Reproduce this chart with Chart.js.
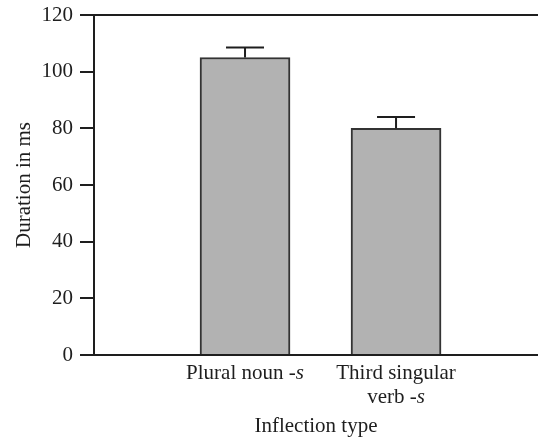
<!DOCTYPE html>
<html>
<head>
<meta charset="utf-8">
<script src="https://cdn.jsdelivr.net/npm/chart.js@4.4.1/dist/chart.umd.min.js"></script>
<style>
  body { margin: 0; background: #fff; }
  #wrap { width: 538px; height: 440px; }
</style>
</head>
<body>
<div id="wrap"><canvas id="durationChart" width="538" height="440"></canvas></div>
<script>
// data
const categories = [['Plural noun -s'], ['Third singular', 'verb -s']];
const positions = [1, 2];
const durations = [105, 80];
const errors = [3.5, 4];
const yTicks = [0, 20, 40, 60, 80, 100, 120];

const ink = '#1e1e1e';
const serif = 'Liberation Serif, Times New Roman, serif';
const fs = 21;

// error bars on top of each bar
const errorBars = {
    id: 'errorBars',
    afterDatasetsDraw(chart) {
        const ctx = chart.ctx;
        const meta = chart.getDatasetMeta(0);
        const y = chart.scales.y;
        ctx.save();
        ctx.strokeStyle = ink;
        ctx.lineWidth = 2;
        meta.data.forEach((bar, i) => {
            const top = y.getPixelForValue(durations[i] + errors[i]);
            const base = y.getPixelForValue(durations[i]);
            ctx.beginPath();
            ctx.moveTo(bar.x, base);
            ctx.lineTo(bar.x, top);
            ctx.moveTo(bar.x - 19, top);
            ctx.lineTo(bar.x + 19, top);
            ctx.stroke();
        });
        ctx.restore();
    }
};

// x labels, with the "s" of "-s" in italics
const xLabels = {
    id: 'xLabels',
    afterDraw(chart) {
        const ctx = chart.ctx;
        const x = chart.scales.x;
        const bottom = chart.chartArea.bottom;
        ctx.save();
        ctx.fillStyle = ink;
        ctx.textBaseline = 'alphabetic';
        ctx.textAlign = 'left';
        categories.forEach((lines, i) => {
            const cx = x.getPixelForValue(positions[i]);
            lines.forEach((line, j) => {
                const ly = bottom + 24 + j * 24;
                let plain = line, ital = '';
                if (line.endsWith('-s')) {
                    plain = line.slice(0, -1);
                    ital = 's';
                }
                ctx.font = fs + 'px ' + serif;
                const w1 = ctx.measureText(plain).width;
                ctx.font = 'italic ' + fs + 'px ' + serif;
                const w2 = ital ? ctx.measureText(ital).width : 0;
                const start = cx - (w1 + w2) / 2;
                ctx.font = fs + 'px ' + serif;
                ctx.fillText(plain, start, ly);
                if (ital) {
                    ctx.font = 'italic ' + fs + 'px ' + serif;
                    ctx.fillText(ital, start + w1, ly);
                }
            });
        });
        ctx.restore();
    }
};

new Chart(document.getElementById('durationChart'), {
    type: 'bar',
    data: {
        datasets: [{
            data: positions.map((p, i) => ({ x: p, y: durations[i] })),
            backgroundColor: '#b2b2b2',
            borderColor: '#333333',
            borderWidth: 2,
            barThickness: 90,
        }]
    },
    plugins: [errorBars, xLabels],
    options: {
        responsive: false,
        animation: false,
        layout: { padding: { top: 15, right: 0, left: 0, bottom: 0 } },
        plugins: {
            legend: { display: false },
            tooltip: { enabled: false },
        },
        scales: {
            x: {
                type: 'linear',
                min: 0,
                max: 2.94,
                offset: false,
                grid: { display: false, offset: false },
                border: { display: false },
                ticks: { display: false },
                title: {
                    display: true,
                    text: 'Inflection type',
                    color: ink,
                    font: { family: serif, size: fs },
                    padding: { top: 0, bottom: 1 },
                },
                afterFit: (s) => { s.height = 85; },
            },
            y: {
                min: 0,
                max: 120,
                afterBuildTicks: (s) => { s.ticks = yTicks.map(v => ({ value: v })); },
                grid: {
                    lineWidth: 2,
                    tickLength: 14,
                    tickColor: ink,
                    color: (c) => (c.tick && (c.tick.value === 0 || c.tick.value === 120)) ? ink : 'rgba(0,0,0,0)',
                },
                border: { display: true, color: ink, width: 2 },
                ticks: {
                    color: ink,
                    padding: 7,
                    font: { family: serif, size: fs },
                },
                title: {
                    display: true,
                    text: 'Duration in ms',
                    color: ink,
                    font: { family: serif, size: fs },
                    padding: { top: 12, bottom: 0 },
                },
                afterFit: (s) => {
                    s.width = 94;
                    s.paddingTop = 0;
                    s.paddingBottom = 0;
                },
            }
        }
    }
});
</script>
</body>
</html>
